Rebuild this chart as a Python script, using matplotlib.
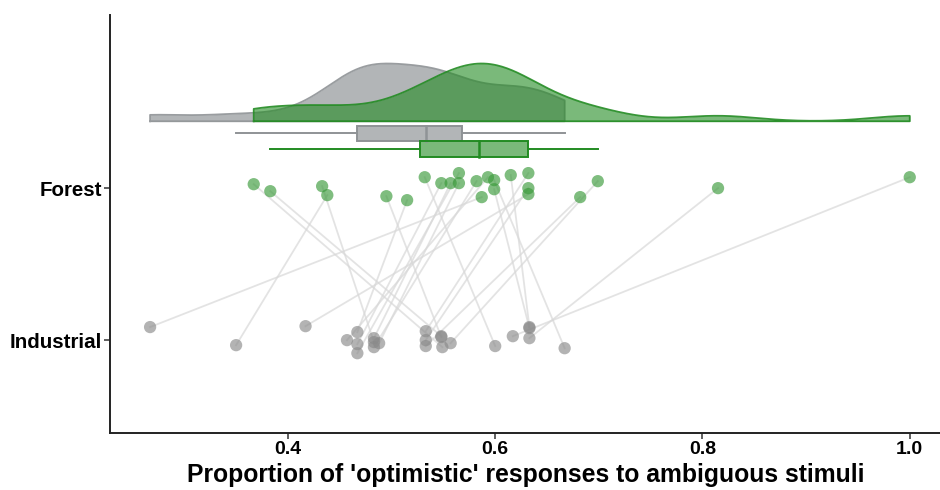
import numpy as np
import matplotlib
matplotlib.use("Agg")
import matplotlib.pyplot as plt

plt.rcParams['font.family'] = ['Liberation Sans', 'DejaVu Sans']

# ---- data (paired by index) ----
categories = ["Industrial", "Forest"]
forest = [0.367, 0.383, 0.433, 0.438, 0.495, 0.515, 0.532, 0.548, 0.557, 0.565, 0.565, 0.582,
          0.587, 0.593, 0.599, 0.599, 0.615, 0.632, 0.632, 0.632, 0.682, 0.699, 0.815, 1.000]
industrial = [0.549, 0.548, 0.483, 0.350, 0.548, 0.467, 0.600, 0.467, 0.483, 0.467, 0.488, 0.483,
              0.267, 0.457, 0.667, 0.633, 0.633, 0.533, 0.533, 0.417, 0.533, 0.557, 0.633, 0.617]
# vertical jitter (category units)
forest_jitter = [0.026, -0.020, 0.013, -0.046, -0.053, -0.079, 0.072, 0.033, 0.033, 0.099, 0.033, 0.046,
                 -0.059, 0.072, 0.053, -0.007, 0.086, 0.099, 0.0, -0.039, -0.059, 0.046, 0.0, 0.072]
industrial_jitter = [-0.046, 0.026, -0.013, -0.033, 0.020, 0.053, -0.039, -0.026, 0.013, -0.086, -0.020, -0.046,
                     0.086, 0.0, -0.053, 0.079, 0.086, 0.059, 0.0, 0.092, -0.039, -0.020, 0.013, 0.026]
x_ticks = [0.4, 0.6, 0.8, 1.0]
x_label = "Proportion of 'optimistic' responses to ambiguous stimuli"

green = "#228B22"
grey = "#7f8487"
grey_pt = "#8a8a8a"

fig = plt.figure(figsize=(9.4, 4.9), dpi=100)
ax = fig.add_axes([0.117, 0.116, 0.885, 0.853])

yF, yI = 2, 1
f = np.array(forest); i = np.array(industrial)
fy = yF + np.array(forest_jitter); iy = yI + np.array(industrial_jitter)

# paired lines
for a, b, c, d in zip(f, fy, i, iy):
    ax.plot([a, c], [b, d], color="#d8d8d8", lw=1.3, alpha=0.7, zorder=1)

ax.scatter(i, iy, s=78, color=grey_pt, alpha=0.65, edgecolor="none", zorder=3)
ax.scatter(f, fy, s=78, color="#3a9a3a", alpha=0.65, edgecolor="none", zorder=3)

# boxplots
def box(vals, yc, col, edge):
    v = np.sort(vals)
    q1, med, q3 = np.percentile(v, [25, 50, 75])
    iqr = q3 - q1
    lo = v[v >= q1 - 1.5 * iqr].min()
    hi = v[v <= q3 + 1.5 * iqr].max()
    h = 0.10
    ax.plot([lo, q1], [yc, yc], color=edge, lw=1.4, zorder=4)
    ax.plot([q3, hi], [yc, yc], color=edge, lw=1.4, zorder=4)
    ax.add_patch(plt.Rectangle((q1, yc - h / 2), q3 - q1, h, facecolor=col, alpha=0.6,
                               edgecolor="none", zorder=4))
    ax.add_patch(plt.Rectangle((q1, yc - h / 2), q3 - q1, h, facecolor="none",
                               edgecolor=edge, lw=1.4, zorder=5))
    ax.plot([med, med], [yc - h / 2, yc + h / 2], color=edge, lw=1.8, zorder=5)

box(i, 2.362, grey, "#8f9396")
box(f, 2.257, green, green)

# half violins (width-scaled KDE, trimmed to data range)
def kde(vals):
    v = np.asarray(vals)
    n = len(v)
    sd = v.std(ddof=1)
    q1, q3 = np.percentile(v, [25, 75])
    bw = 0.9 * min(sd, (q3 - q1) / 1.34) * n ** -0.2
    xs = np.linspace(v.min(), v.max(), 400)
    d = np.exp(-0.5 * ((xs[:, None] - v[None, :]) / bw) ** 2).sum(1) / (n * bw * np.sqrt(2 * np.pi))
    return xs, d

base = 2.44
width = 0.38
xi, di = kde(i)
xf, df = kde(f)
for xs, d, col, edge, z in [(xi, di, grey, "#8f9396", 6), (xf, df, green, green, 7)]:
    top = base + d / d.max() * width
    ax.fill_between(xs, base, top, color=col, alpha=0.6, lw=0, zorder=z)
    px = np.concatenate([[xs[0]], xs, [xs[-1], xs[0]]])
    py = np.concatenate([[base], top, [base, base]])
    ax.plot(px, py, color=edge, lw=1.3, alpha=0.9, zorder=z)

ax.set_xlim(0.2283, 1.031)
ax.set_ylim(0.388, 3.138)
ax.set_yticks([yI, yF])
ax.set_yticklabels(categories, fontsize=14.8, fontweight="bold")
ax.set_xticks(x_ticks)
ax.set_xticklabels([f"{t:.1f}" for t in x_ticks], fontsize=14, fontweight="bold")
ax.set_xlabel(x_label, fontsize=17.8, fontweight="bold", labelpad=3)
for s in ["top", "right"]:
    ax.spines[s].set_visible(False)
for s in ["left", "bottom"]:
    ax.spines[s].set_color("#222222")
    ax.spines[s].set_linewidth(1.4)
ax.tick_params(length=4, width=1.1, color="#333333", pad=2)

fig.savefig("out.png", dpi=100)
